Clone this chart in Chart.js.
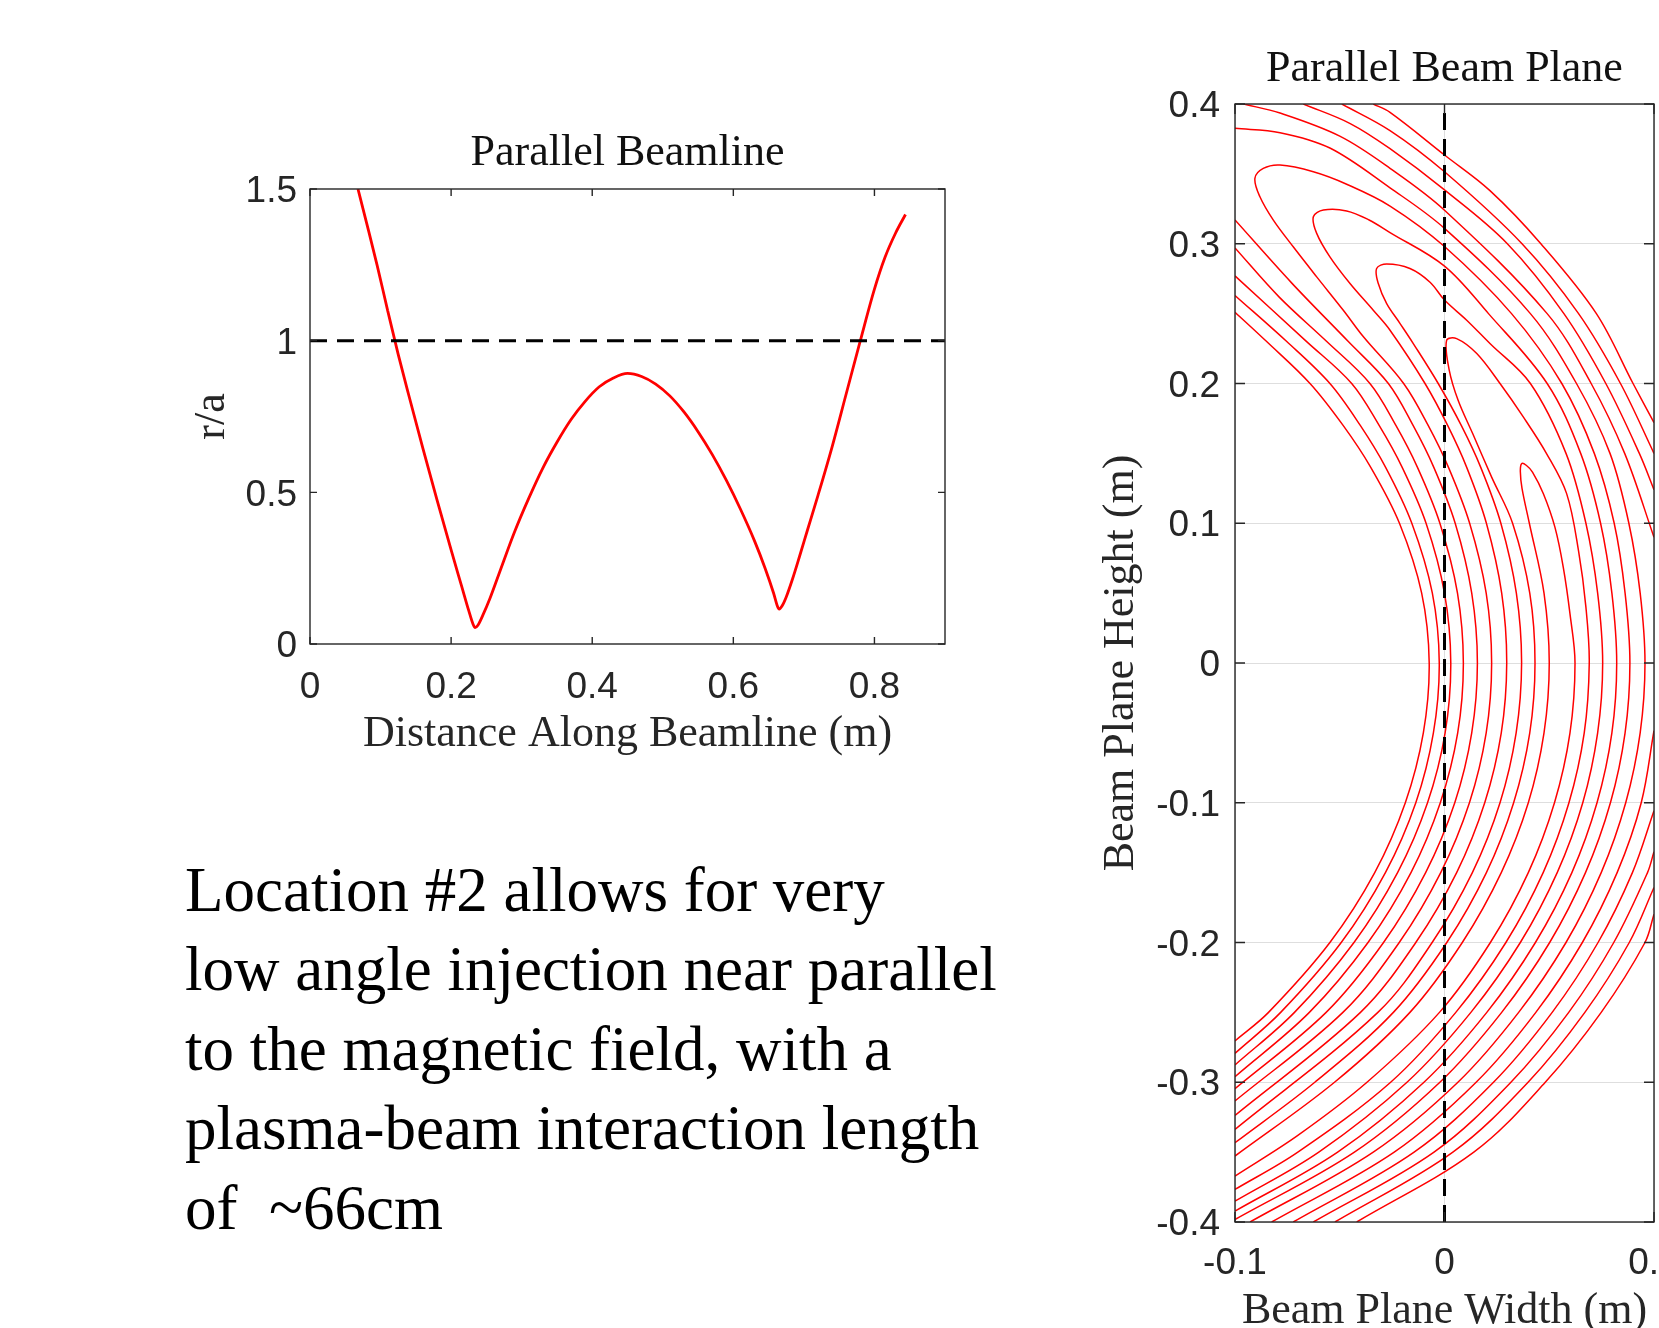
<!DOCTYPE html>
<html>
<head>
<meta charset="utf-8">
<title>Parallel beamline</title>
<script src="https://cdn.jsdelivr.net/npm/chart.js@4.4.1/dist/chart.umd.min.js"></script>
<style>
  html, body { margin: 0; padding: 0; background: #fff; overflow: hidden; }
  canvas { position: absolute; }
  #beamline { left: 150px; top: 100px; }
  #plane { left: 1060px; top: 0; }
  #note { position: absolute; left: 185px; top: 851px; margin: 0;
          font: 63px/79.4px "Liberation Serif", serif; color: #000; white-space: nowrap; }
</style>
</head>
<body>
<canvas id="beamline" width="850" height="664"></canvas>
<canvas id="plane" width="640" height="1340"></canvas>
<p id="note">Location #2 allows for very<br>low angle injection near parallel<br>to the magnetic field, with a<br>plasma-beam interaction length<br>of &nbsp;~66cm</p>
<script>
// Left panel: r/a along the parallel beamline
var beamDistance = [0.068, 0.08, 0.095, 0.11, 0.125, 0.14, 0.16, 0.18, 0.2, 0.215, 0.225, 0.231, 0.234, 0.238, 0.245, 0.255, 0.27, 0.29,
                    0.31, 0.33, 0.35, 0.37, 0.39, 0.41, 0.43, 0.45, 0.47, 0.49, 0.51, 0.53, 0.55, 0.57, 0.59, 0.61, 0.63, 0.645, 0.657,
                    0.662, 0.665, 0.669, 0.675, 0.684, 0.694, 0.705, 0.72, 0.74, 0.76, 0.78, 0.80, 0.815, 0.83, 0.844];
var beamRadius = [1.5, 1.39, 1.25, 1.1, 0.955, 0.82, 0.645, 0.475, 0.31, 0.19, 0.11, 0.066, 0.054, 0.062, 0.095, 0.15, 0.245, 0.37,
                  0.48, 0.58, 0.665, 0.74, 0.8, 0.848, 0.877, 0.892, 0.882, 0.857, 0.818, 0.765, 0.70, 0.625, 0.54, 0.445, 0.34, 0.25, 0.168,
                  0.128, 0.115, 0.125, 0.155, 0.215, 0.29, 0.375, 0.49, 0.65, 0.825, 1.0, 1.17, 1.275, 1.355, 1.416];
var edgeLevel = 1;              // r/a = 1, dashed
var beamRangeX = [0, 0.9];
var beamRangeY = [0, 1.5];
var beamTicksX = [0, 0.2, 0.4, 0.6, 0.8];
var beamTicksY = [0, 0.5, 1, 1.5];

// Right panel: contour lines in the beam plane, [width, height] in m
// lines that leave through the left edge above the axis
var innerArcs = [
  [[-0.1,-0.2704],[-0.084,-0.25],[-0.0547,-0.2],[-0.0333,-0.15],[-0.0187,-0.1],[-0.0101,-0.05],[-0.0073,0],[-0.0109,0.05],[-0.0215,0.1],[-0.0352,0.14],[-0.0484,0.17],[-0.0642,0.2],[-0.0849,0.23],[-0.1,0.251]],
  [[-0.1,-0.2793],[-0.0782,-0.25],[-0.0493,-0.2],[-0.0282,-0.15],[-0.0137,-0.1],[-0.0053,-0.05],[-0.0025,0],[-0.0058,0.05],[-0.0156,0.1],[-0.0281,0.14],[-0.0402,0.17],[-0.0547,0.2],[-0.0753,0.23],[-0.1,0.263]],
  [[-0.1,-0.2876],[-0.0716,-0.25],[-0.0432,-0.2],[-0.0224,-0.15],[-0.0081,-0.1],[0.0003,-0.05],[0.003,0],[0,0.05],[-0.0088,0.1],[-0.0202,0.14],[-0.0312,0.17],[-0.0443,0.2],[-0.0658,0.23],[-0.1,0.277]],
  [[-0.1,-0.296],[-0.0645,-0.25],[-0.0365,-0.2],[-0.016,-0.15],[-0.002,-0.1],[0.0063,-0.05],[0.009,0],[0.0062,0.05],[-0.0022,0.1],[-0.0129,0.14],[-0.0232,0.17],[-0.0356,0.2],[-0.0562,0.23],[-0.079,0.262],[-0.1,0.297]],
  [[-0.1,-0.3046],[-0.0565,-0.25],[-0.0291,-0.2],[-0.009,-0.15],[0.0049,-0.1],[0.013,-0.05],[0.0157,0],[0.013,0.05],[0.0051,0.1],[-0.0051,0.14],[-0.015,0.17],[-0.0268,0.2],[-0.0459,0.23],[-0.073,0.272],[-0.1,0.317]]
];
// lines that turn back in a hairpin and go down again
var hairpins = [
  [[-0.1,-0.3134],[-0.0485,-0.25],[-0.0216,-0.2],[-0.0018,-0.15],[0.0119,-0.1],[0.0199,-0.05],[0.0225,0],[0.0199,0.05],[0.012,0.1],[0.0019,0.14],[-0.0078,0.17],[-0.0195,0.2],
   [-0.0387,0.2334],[-0.0483,0.2524],[-0.061,0.2763],[-0.0722,0.2978],[-0.0817,0.3169],[-0.0881,0.3336],[-0.0905,0.3468],[-0.0865,0.3539],[-0.0785,0.3563],[-0.0626,0.3515],
   [-0.0467,0.3426],[-0.026,0.327],[0,0.298],[0.032,0.25],[0.056,0.2],[0.0715,0.15],[0.081,0.1],[0.0862,0.05],
   [0.0885,0],[0.0862,-0.05],[0.0792,-0.1],[0.0673,-0.15],[0.0502,-0.2],[0.0273,-0.25],[-0.0022,-0.3],[-0.043,-0.35],[-0.1,-0.3982]],
  [[-0.1,-0.3237],[-0.0401,-0.25],[-0.0137,-0.2],[0.0058,-0.15],[0.0192,-0.1],[0.0271,-0.05],[0.0297,0],[0.0273,0.05],[0.02,0.1],[0.0106,0.14],[0.0015,0.17],[-0.0093,0.2],
   [-0.026,0.2381],[-0.034,0.2524],[-0.0451,0.2715],[-0.0547,0.2906],[-0.061,0.3074],[-0.0626,0.3193],[-0.0578,0.3241],[-0.0467,0.3235],[-0.036,0.317],[-0.026,0.308],
   [0,0.284],[0.021,0.25],[0.049,0.2],[0.065,0.15],[0.0745,0.1],[0.0799,0.05],[0.0822,0],[0.0799,-0.05],[0.0728,-0.1],[0.0608,-0.15],
   [0.0434,-0.2],[0.0202,-0.25],[-0.0098,-0.3],[-0.051,-0.35],[-0.1,-0.3922]],
  [[-0.1,-0.3337],[-0.0318,-0.25],[-0.0059,-0.2],[0.0133,-0.15],[0.0265,-0.1],[0.0342,-0.05],[0.0368,0],[0.0343,0.05],[0.0269,0.1],[0.0173,0.14],[0.008,0.17],[-0.003,0.2],
   [-0.0149,0.2286],[-0.0212,0.2429],[-0.0276,0.2572],[-0.0316,0.2715],[-0.0324,0.2823],[-0.0276,0.2855],[-0.0165,0.2823],[-0.0069,0.2725],[0,0.2597],[0.0106,0.2453],
   [0.0217,0.2286],[0.041,0.2],[0.058,0.15],[0.0675,0.1],[0.0731,0.05],[0.0755,0],[0.0731,-0.05],[0.066,-0.1],[0.0538,-0.15],[0.0362,-0.2],[0.0126,-0.25],[-0.0179,-0.3],
   [-0.06,-0.35],[-0.1,-0.3851]],
  [[-0.1,-0.3433],[-0.0619,-0.3],[-0.0244,-0.25],[0.0011,-0.2],[0.02,-0.15],[0.033,-0.1],[0.0407,-0.05],[0.0432,0],[0.0407,0.05],[0.0325,0.1],[0.0225,0.133],[0.0135,0.164],
   [0.0065,0.188],[0.0022,0.21],[0.001,0.2309],[0.0058,0.2321],[0.0154,0.2214],[0.0265,0.2],[0.0376,0.1761],[0.0487,0.1499],[0.0583,0.1212],[0.064,0.08],[0.0675,0.04],
   [0.0691,0],[0.0667,-0.05],[0.0594,-0.1],[0.0471,-0.15],[0.0293,-0.2],[0.0054,-0.25],[-0.0257,-0.3],[-0.07,-0.35],[-0.1,-0.3767]],
  [[-0.1,-0.3528],[-0.0525,-0.3],[-0.0165,-0.25],[0.0085,-0.2],[0.0271,-0.15],[0.04,-0.1],[0.0475,-0.05],[0.05,0],[0.0475,0.05],[0.0405,0.1],[0.037,0.125],[0.0362,0.137],
   [0.0368,0.1426],[0.039,0.1415],[0.042,0.1366],[0.0472,0.1211],[0.0527,0.0972],[0.0567,0.0685],[0.0599,0.0351],[0.0623,0],[0.0599,-0.05],[0.0525,-0.1],[0.04,-0.15],
   [0.0219,-0.2],[-0.0024,-0.25],[-0.037,-0.3],[-0.07,-0.338],[-0.1,-0.3671]]
];
// outer lines: enter at the top / left / right edges
var outerArcs = [
  [[-0.1,0.3826],[-0.0785,0.3795],[-0.0547,0.3685],[-0.026,0.34],[0,0.311],[0.041,0.25],[0.063,0.2],[0.079,0.15],[0.088,0.1],[0.0934,0.05],[0.0957,0],
   [0.0934,-0.05],[0.0865,-0.1],[0.0748,-0.15],[0.058,-0.2],[0.0354,-0.25],[0.0064,-0.3],[-0.034,-0.35],[-0.0928,-0.4]],
  [[-0.096,0.4],[-0.0785,0.3935],[-0.05,0.377],[-0.026,0.354],[0,0.324],[0.049,0.25],[0.07,0.2],[0.086,0.15],[0.1,0.09]],
  [[-0.0674,0.4],[-0.045,0.386],[-0.026,0.368],[0,0.3385],[0.03,0.3],[0.057,0.25],[0.077,0.2],[0.093,0.15],[0.1,0.124]],
  [[-0.049,0.4],[-0.026,0.381],[0,0.3515],[0.037,0.3],[0.064,0.25],[0.084,0.2],[0.1,0.15]],
  [[-0.034,0.4],[-0.026,0.394],[0,0.3635],[0.0217,0.338],[0.046,0.3],[0.0725,0.25],[0.09,0.2],[0.1,0.172]],
  [[0.1,-0.0484],[0.0939,-0.1],[0.0824,-0.15],[0.0658,-0.2],[0.0436,-0.25],[0.0151,-0.3],[-0.024,-0.35],[-0.0825,-0.4]],
  [[0.1,-0.1057],[0.0897,-0.15],[0.0733,-0.2],[0.0514,-0.25],[0.0234,-0.3],[-0.0145,-0.35],[-0.0722,-0.4]],
  [[0.1,-0.135],[0.0969,-0.15],[0.0808,-0.2],[0.0593,-0.25],[0.0317,-0.3],[-0.005,-0.35],[-0.0626,-0.4]],
  [[0.1,-0.1606],[0.0882,-0.2],[0.067,-0.25],[0.0399,-0.3],[0.004,-0.35],[-0.0523,-0.4]],
  [[0.1,-0.1797],[0.0957,-0.2],[0.0748,-0.25],[0.0481,-0.3],[0.014,-0.35],[-0.0419,-0.4]]
];
var beamAxisX = 0;              // dashed beam line in the plane
var planeRangeX = [-0.1, 0.1];
var planeRangeY = [-0.4, 0.4];
var planeTicksX = [-0.1, 0, 0.1];
var planeTicksY = [-0.4, -0.3, -0.2, -0.1, 0, 0.1, 0.2, 0.3, 0.4];

var ink = '#262626';
var tickFont = { family: 'Liberation Sans', size: 37 };
var texFont = { family: 'Liberation Serif', size: 44, weight: 'normal' };

// MATLAB style box with inward ticks on all four sides
var boxTicks = {
  id: 'boxTicks',
  afterDraw: function (chart, args, opts) {
    var ctx = chart.ctx, a = chart.chartArea, x = chart.scales.x, y = chart.scales.y;
    ctx.save();
    ctx.strokeStyle = ink;
    ctx.lineWidth = 1.4;
    ctx.beginPath();
    x.ticks.forEach(function (t) {
      var px = x.getPixelForValue(t.value);
      ctx.moveTo(px, a.bottom); ctx.lineTo(px, a.bottom - opts.len);
      ctx.moveTo(px, a.top); ctx.lineTo(px, a.top + opts.len);
    });
    y.ticks.forEach(function (t) {
      var py = y.getPixelForValue(t.value);
      ctx.moveTo(a.left, py); ctx.lineTo(a.left + opts.len, py);
      ctx.moveTo(a.right, py); ctx.lineTo(a.right - opts.len, py);
    });
    ctx.stroke();
    ctx.strokeRect(a.left, a.top, a.right - a.left, a.bottom - a.top);
    ctx.restore();
  }
};

function setTicks(values) {
  return function (scale) { scale.ticks = values.map(function (v) { return { value: v }; }); };
}
function label(v) { return String(v); }

new Chart(document.getElementById('beamline'), {
  type: 'scatter',
  data: {
    datasets: [
      {
        data: beamDistance.map(function (x, i) { return { x: x, y: beamRadius[i] }; }),
        showLine: true,
        borderColor: '#ff0000',
        borderWidth: 2.8,
        pointRadius: 0,
        cubicInterpolationMode: 'monotone',
        order: 1
      },
      {
        data: [{ x: beamRangeX[0], y: edgeLevel }, { x: beamRangeX[1], y: edgeLevel }],
        showLine: true,
        borderColor: '#000000',
        borderWidth: 3,
        borderDash: [17, 10],
        pointRadius: 0,
        order: 0
      }
    ]
  },
  options: {
    responsive: false,
    animation: false,
    devicePixelRatio: 1,
    layout: { padding: { left: 0, right: 55, top: 0, bottom: 0 } },
    plugins: {
      legend: { display: false },
      tooltip: { enabled: false },
      title: { display: true, text: 'Parallel Beamline', font: texFont, color: '#111', fullSize: false, padding: { top: 26.6, bottom: 9.6 } },
      boxTicks: { len: 7 }
    },
    scales: {
      x: {
        type: 'linear', min: beamRangeX[0], max: beamRangeX[1],
        afterBuildTicks: setTicks(beamTicksX),
        afterFit: function (s) { s.height = 120; },
        grid: { display: false, drawTicks: false },
        border: { display: false },
        ticks: { font: tickFont, color: ink, padding: 22, maxRotation: 0, autoSkip: false, callback: label },
        title: { display: true, text: 'Distance Along Beamline (m)', font: texFont, color: ink, padding: { top: 0, bottom: 3 } }
      },
      y: {
        type: 'linear', min: beamRangeY[0], max: beamRangeY[1],
        afterBuildTicks: setTicks(beamTicksY),
        afterFit: function (s) { s.width = 160; },
        grid: { display: false, drawTicks: false },
        border: { display: false },
        ticks: { font: tickFont, color: ink, padding: 13, labelOffset: 3, autoSkip: false, callback: label },
        title: { display: true, text: 'r/a', font: texFont, color: ink, padding: { top: 35.6, bottom: 0 } }
      }
    }
  },
  plugins: [boxTicks]
});

var contourSets = innerArcs.concat(hairpins, outerArcs).map(function (path) {
  return {
    data: path.map(function (p) { return { x: p[0], y: p[1] }; }),
    showLine: true,
    borderColor: '#ff0000',
    borderWidth: 1.5,
    pointRadius: 0,
    tension: 0.35,
    clip: 0,
    order: 1
  };
});
contourSets.unshift({
  data: [{ x: beamAxisX, y: planeRangeY[0] }, { x: beamAxisX, y: planeRangeY[1] }],
  showLine: true,
  borderColor: '#000000',
  borderWidth: 3,
  borderDash: [17, 9],
  pointRadius: 0,
  order: 0
});

new Chart(document.getElementById('plane'), {
  type: 'scatter',
  data: { datasets: contourSets },
  options: {
    responsive: false,
    animation: false,
    devicePixelRatio: 1,
    layout: { padding: { left: 0, right: 46, top: 0, bottom: 0 } },
    plugins: {
      legend: { display: false },
      tooltip: { enabled: false },
      title: { display: true, text: 'Parallel Beam Plane', font: texFont, color: '#111', fullSize: false, padding: { top: 43.3, bottom: 7.9 } },
      boxTicks: { len: 10 }
    },
    scales: {
      x: {
        type: 'linear', min: planeRangeX[0], max: planeRangeX[1],
        afterBuildTicks: setTicks(planeTicksX),
        afterFit: function (s) { s.height = 118; },
        grid: { color: '#dedede', lineWidth: 1, drawTicks: false },
        border: { display: false },
        ticks: { font: tickFont, color: ink, padding: 20, maxRotation: 0, autoSkip: false, callback: label },
        title: { display: true, text: 'Beam Plane Width (m)', font: texFont, color: ink, padding: { top: 0, bottom: 2.5 } }
      },
      y: {
        type: 'linear', min: planeRangeY[0], max: planeRangeY[1],
        afterBuildTicks: setTicks(planeTicksY),
        afterFit: function (s) { s.width = 175; },
        grid: { color: '#dedede', lineWidth: 1, drawTicks: false },
        border: { display: false },
        ticks: { font: tickFont, color: ink, padding: 15, labelOffset: 3, autoSkip: false, callback: label },
        title: { display: true, text: 'Beam Plane Height (m)', font: texFont, color: ink, padding: { top: 34.6, bottom: 0 } }
      }
    }
  },
  plugins: [boxTicks]
});
</script>
</body>
</html>
